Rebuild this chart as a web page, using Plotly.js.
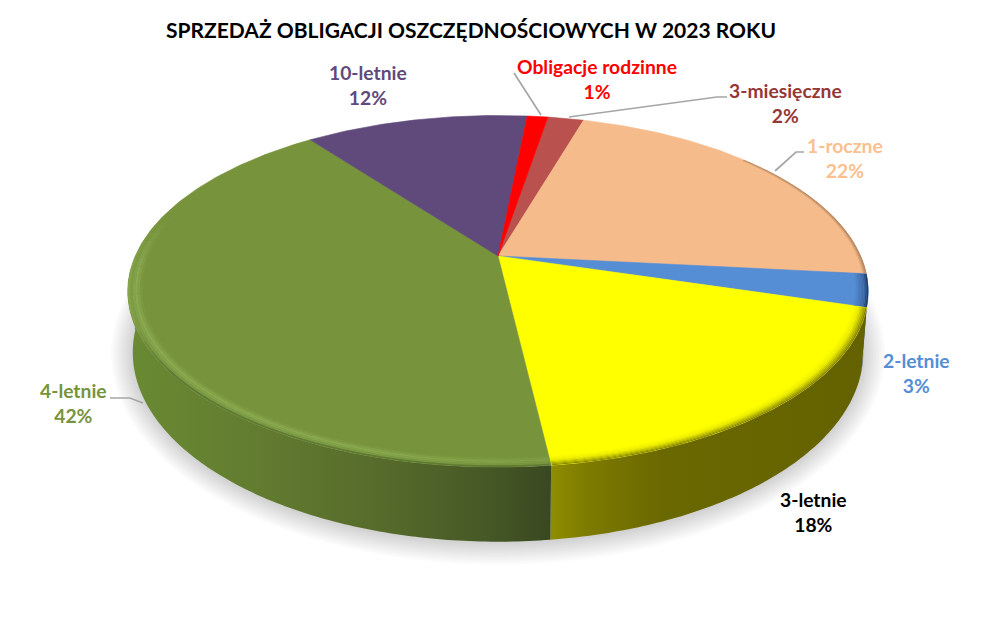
<!DOCTYPE html>
<html>
<head>
<meta charset="utf-8">
<script src="https://cdn.plot.ly/plotly-3.0.1.min.js"></script>
<style>html,body{margin:0;padding:0;background:#fff}#chart{width:997px;height:630px}</style>
</head>
<body>
<div id="chart"></div>
<script>
// Data, clockwise from the first slice
const categories = ['3-miesięczne', '1-roczne', '2-letnie', '3-letnie', '4-letnie', '10-letnie', 'Obligacje rodzinne'];
const values = [1.9, 22.1, 3.0, 18.49, 41.61, 11.8, 1.1];
const titleText = 'SPRZEDAŻ OBLIGACJI OSZCZĘDNOŚCIOWYCH W 2023 ROKU';

// Styles
const topColors = ['#B9524F', '#F6BB8B', '#558ED5', '#FFFF00', '#77933C', '#604A7B', '#FF0000'];
const labelColors = ['#953735', '#FAC090', '#558ED5', '#000000', '#77933C', '#604A7B', '#FF0000'];
const wallScales = [
  [[0, '#7a4040'], [1, '#7a4040']],
  [[0, '#a87a58'], [1, '#6e5038']],
  [[0, '#3a5f94'], [1, '#142a4c']],
  [[0, '#8f8d00'], [0.12, '#7d7b00'], [0.35, '#6a6800'], [1, '#646200']],
  [[0, '#6a8a33'], [0.3, '#627c30'], [0.6, '#566b2b'], [0.85, '#465826'], [1, '#394820']],
  [[0, '#4a3960'], [1, '#4a3960']],
  [[0, '#bb0000'], [1, '#bb0000']]
];
const bevelStops = [
  null,
  [[0.988, [246, 187, 139]], [1, [150, 110, 78]]],
  [[0.965, [85, 142, 213]], [0.99, [60, 100, 160]], [1, [25, 50, 90]]],
  [[0.965, [255, 255, 0]], [0.98, [235, 235, 0]], [0.993, [165, 165, 0]], [1, [120, 118, 0]]],
  null,
  null,
  null
];
const greenBase = [119, 147, 60], greenHigh = [140, 172, 82], greenMid = [124, 156, 68], greenDark = [84, 108, 44];

// Pie geometry (perspective view of a flat disc)
const firstAngle = 9.5, K = 0.2006;
const topDisc = {cx: 498, cy: 256, A: 168.7, B: 362.7};
const lowDisc = {cx: 498, cy: 314.4, A: 181.7, B: 357.8};

function pt(d, deg, s) {
  const r = deg * Math.PI / 180, u = s * Math.sin(r), v = s * Math.cos(r), w = 1 + K * v;
  return [d.cx + d.B * u / w, d.cy - d.A * v / w];
}
function arc(d, a, b, s) {
  const n = Math.max(2, Math.ceil(Math.abs(b - a) / 0.7)), out = [];
  for (let i = 0; i <= n; i++) out.push(pt(d, a + (b - a) * i / n, s));
  return out;
}
function poly(points, extra) {
  return Object.assign({
    type: 'scatter', mode: 'none', fill: 'toself', hoverinfo: 'skip',
    x: points.map(p => p[0]).concat(points[0][0]),
    y: points.map(p => p[1]).concat(points[0][1])
  }, extra);
}

const total = values.reduce((a, b) => a + b, 0);
let acc = firstAngle;
const spans = values.map(v => { const a = acc; acc += v / total * 360; return [a, acc]; });

const traces = [];

// Soft shadow under the disc
for (let e = 22; e >= 1; e -= 1.5) {
  const pts = arc(lowDisc, 0, 360, 1).map(p => [
    498 + (p[0] - 498) * (1 + e / 365),
    352 + (p[1] - 352) * (1 + e / 189) + 1
  ]);
  traces.push(poly(pts, {fillcolor: 'rgba(0,0,0,0.011)'}));
}

// Side walls on the front half
const wallFrom = 55, wallTo = 265;
spans.forEach((sp, i) => {
  const a = Math.max(sp[0], wallFrom), b = Math.min(sp[1], wallTo);
  if (b <= a) return;
  const pts = arc(topDisc, a, b, 1).concat(arc(lowDisc, b, a, 1));
  traces.push(poly(pts, {
    fillcolor: wallScales[i][0][1],
    fillgradient: {type: 'horizontal', colorscale: wallScales[i]}
  }));
});

// Top surface of each slice
spans.forEach((sp, i) => {
  const pts = [pt(topDisc, 0, 0)].concat(arc(topDisc, sp[0], sp[1], 1));
  traces.push(Object.assign(poly(pts, {fillcolor: topColors[i]}), {
    mode: 'lines', line: {color: topColors[i], width: 0.6}
  }));
});

// Bevel along the rim
function lerp(c0, c1, f) { return c0.map((c, n) => c + (c1[n] - c) * f); }
function mix(stops, t) {
  let c = stops[stops.length - 1][1];
  for (let j = 1; j < stops.length; j++) {
    if (t <= stops[j][0]) {
      c = lerp(stops[j - 1][1], stops[j][1], (t - stops[j - 1][0]) / (stops[j][0] - stops[j - 1][0]));
      break;
    }
  }
  return 'rgb(' + c.map(Math.round).join(',') + ')';
}
function band(a, b, stops, n) {
  const s0 = stops[0][0], s1 = stops[stops.length - 1][0];
  for (let q = 0; q < n; q++) {
    const p = s0 + (s1 - s0) * q / n, r = s0 + (s1 - s0) * (q + 1) / n;
    const pts = arc(topDisc, a, b, p).concat(arc(topDisc, b, a, r));
    traces.push(poly(pts, {fillcolor: mix(stops, (p + r) / 2)}));
  }
}
spans.forEach((sp, i) => {
  if (!bevelStops[i]) return;
  band(i === 1 ? 50 : sp[0] + 0.1, sp[1] - 0.1, bevelStops[i], 9);
});
// Green rim: highlight fades towards both ends, dark lip only on the front
const clamp = x => Math.max(0, Math.min(1, x));
const greenSpan = spans[4];
for (let th = greenSpan[0] + 0.1; th < 284; th += 3) {
  const m = th + 1.5;
  const h = Math.min(0.45 + clamp((m - greenSpan[0]) / 25) * 0.55, clamp((285 - m) / 20));
  const d = clamp((252 - m) / 20);
  const lip = lerp(lerp(greenBase, greenHigh, h * 0.85), greenDark, d);
  band(th, Math.min(th + 3.05, 284), [
    [0.962, greenBase],
    [0.979, lerp(greenBase, greenHigh, h)],
    [0.99, lerp(greenBase, greenMid, h)],
    [1, lip]
  ], 6);
}

// Leader lines
const leaderX = [[514, 541], [569, 717, 727], [775, 796, 804], [110, 130, 143]];
const leaderY = [[73, 115], [117, 97, 97], [171, 152, 152], [398, 398, 403]];
leaderX.forEach((xs, i) => traces.push({
  type: 'scatter', mode: 'lines', hoverinfo: 'skip', x: xs, y: leaderY[i],
  line: {color: '#A6A6A6', width: 1.7}
}));

// Labels
const labelX = [785, 845, 916, 813, 73, 368, 597];
const labelY = [103, 158, 373, 512, 403, 85, 79];
const annotations = categories.map((c, i) => ({
  x: labelX[i], y: labelY[i], xref: 'x', yref: 'y', showarrow: false,
  xanchor: 'center', yanchor: 'middle', align: 'center',
  text: '<b>' + c + '<br>' + Math.round(values[i]) + '%</b>',
  font: {family: 'Lato, "Open Sans", sans-serif', size: 19.3, color: labelColors[i]}
}));

const layout = {
  width: 997, height: 630,
  margin: {l: 0, r: 0, t: 0, b: 0},
  paper_bgcolor: '#fff', plot_bgcolor: '#fff',
  showlegend: false,
  title: {
    text: '<b>' + titleText + '</b>', x: 471 / 997, xanchor: 'center',
    y: 1 - 31 / 630, yanchor: 'middle',
    font: {family: 'Lato, "Open Sans", sans-serif', size: 21, color: '#000'}
  },
  xaxis: {range: [0, 997], visible: false, fixedrange: true},
  yaxis: {range: [630, 0], visible: false, fixedrange: true},
  annotations: annotations
};
Plotly.newPlot('chart', traces, layout, {displayModeBar: false, staticPlot: true});
</script>
</body>
</html>
